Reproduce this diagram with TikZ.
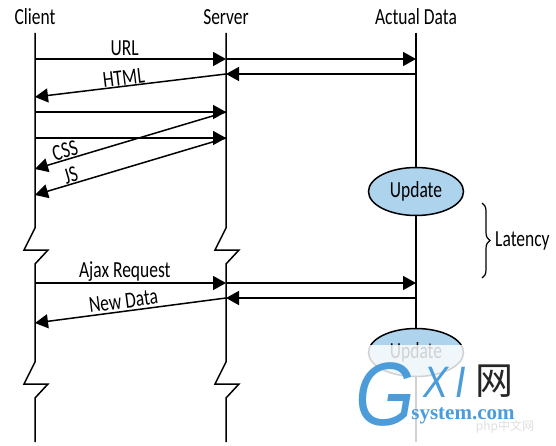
\documentclass[tikz,border=0pt]{standalone}
\usepackage{fontspec}
\setmainfont[FakeStretch=0.76]{Carlito}
\newfontfamily\cjkfont{Noto Sans CJK SC}
\newfontfamily\marksans[FakeStretch=0.85]{Liberation Sans}
\newfontfamily\markserif{Liberation Serif}
\usetikzlibrary{
	positioning,
	arrows.meta,
	shapes.geometric,
	decorations.pathreplacing
}
\definecolor{updatecolor}{HTML}{AED3EC}
\definecolor{markcolor}{HTML}{4B9CD8}
\tikzset{
	headnode/.style={
		font=\fontsize{23}{25}\selectfont,
		inner sep=0pt
	},
	msgnode/.style={
		font=\fontsize{23}{25}\selectfont,
		inner sep=0.5pt,
		sloped
	},
	updatenode/.style={
		shape=ellipse,
		draw=black,
		fill=updatecolor,
		line width=1.5pt,
		minimum width=95pt,
		minimum height=48pt,
		inner sep=0pt,
		font=\fontsize{23}{25}\selectfont
	},
	lifeline/.style={
		line width=1.5pt,
		color=black
	},
	msgarrow/.style={
		-{Triangle[length=13pt,width=14pt]},
		line width=1.5pt,
		color=black
	}
}
\begin{document}
\begin{tikzpicture}[x=1pt,y=-1pt]
		\useasboundingbox (0,0) rectangle (556,446);
		
		% Nodes
		% Headings
		\node[headnode] (client) at (35,17) {Client};
		\node[headnode] (server) at (226,17) {Server};
		\node[headnode] (data) at (416,17) {Actual Data};
		
		% Message rows on each lifeline
		\foreach \rowy in {33,59,74,97,112,138,169,195,283,298,323,442}{
			\coordinate (c\rowy) at (35,\rowy);
			\coordinate (s\rowy) at (226,\rowy);
			\coordinate (d\rowy) at (416,\rowy);
		}
		
		% Right column: updates
		\node[updatenode] (update) at (416,191.5) {Update};
		\node[updatenode] (update2) at (416,352.5) {Update};
		
		% Latency brace
		\coordinate (bracetop) at (482,203);
		\coordinate (bracebot) at (482,278);
		\node[headnode, anchor=west] (latency) at (495,241) {Latency};
		
		% Lifelines, with their breaks
		\foreach \lx/\top/\bot in {35/c33/c442,226/s33/s442}{
			\draw[lifeline, line join=miter] (\top) -- (\lx,228) -- ++(-11,22) -- ++(24,0) -- (\lx,264)
			-- (\lx,362) -- ++(-11,22) -- ++(24,0) -- (\lx,398) -- (\bot);
		}
		\draw[lifeline] (d33) -- (update);
		\draw[lifeline] (update) -- (update2);
		\draw[lifeline] (update2) -- (d442);
		
		% Arrows
		% First request
		\draw[msgarrow] (c59) -- (s59) node[msgnode, pos=0.47, above=2pt] (url) {URL};
		\draw[msgarrow] (s59) -- (d59);
		\draw[msgarrow] (d74) -- (s74);
		\draw[msgarrow] (s74) -- (c97) node[msgnode, pos=0.53, above] (html) {HTML};
		
		% Resources
		\draw[msgarrow] (c112) -- (s112);
		\draw[msgarrow] (c138) -- (s138);
		\draw[msgarrow] (s112) -- (c169) node[msgnode, pos=0.83, above] (css) {CSS};
		\draw[msgarrow] (s138) -- (c195) node[msgnode, pos=0.80, above] (js) {JS};
		
		% Ajax request
		\draw[msgarrow] (c283) -- (s283) node[msgnode, pos=0.47, above] (ajax) {Ajax Request};
		\draw[msgarrow] (s283) -- (d283);
		\draw[msgarrow] (d298) -- (s298);
		\draw[msgarrow] (s298) -- (c323) node[msgnode, pos=0.53, above=1.5pt] (newdata) {New Data};
		
		% Brace
		\draw[line width=1.2pt, decorate, decoration={brace, amplitude=8pt}] (bracetop) -- (bracebot);
		
		% Mark over the lower corner
		\fill[white, opacity=0.82] (360,345) rectangle (556,446);
		\node[text=markcolor, font=\fontsize{90}{90}\selectfont\marksans\itshape, inner sep=0pt] (markg) at (385,395) {G};
		\node[text=markcolor, font=\fontsize{44}{44}\selectfont\marksans\itshape, inner sep=0pt] (markx) at (445,382) {X\,I};
		\node[text=black!85, font=\fontsize{38}{38}\selectfont\cjkfont, inner sep=0pt] (markw) at (494,381) {网};
		\node[text=markcolor, font=\fontsize{21}{21}\selectfont\markserif\bfseries, inner sep=0pt] (marks) at (463,416) {system.com};
		\node[text=black!12, font=\fontsize{12}{12}\selectfont\cjkfont, inner sep=0pt] (markp) at (505,427) {php中文网};
		
	\end{tikzpicture}
\end{document}
